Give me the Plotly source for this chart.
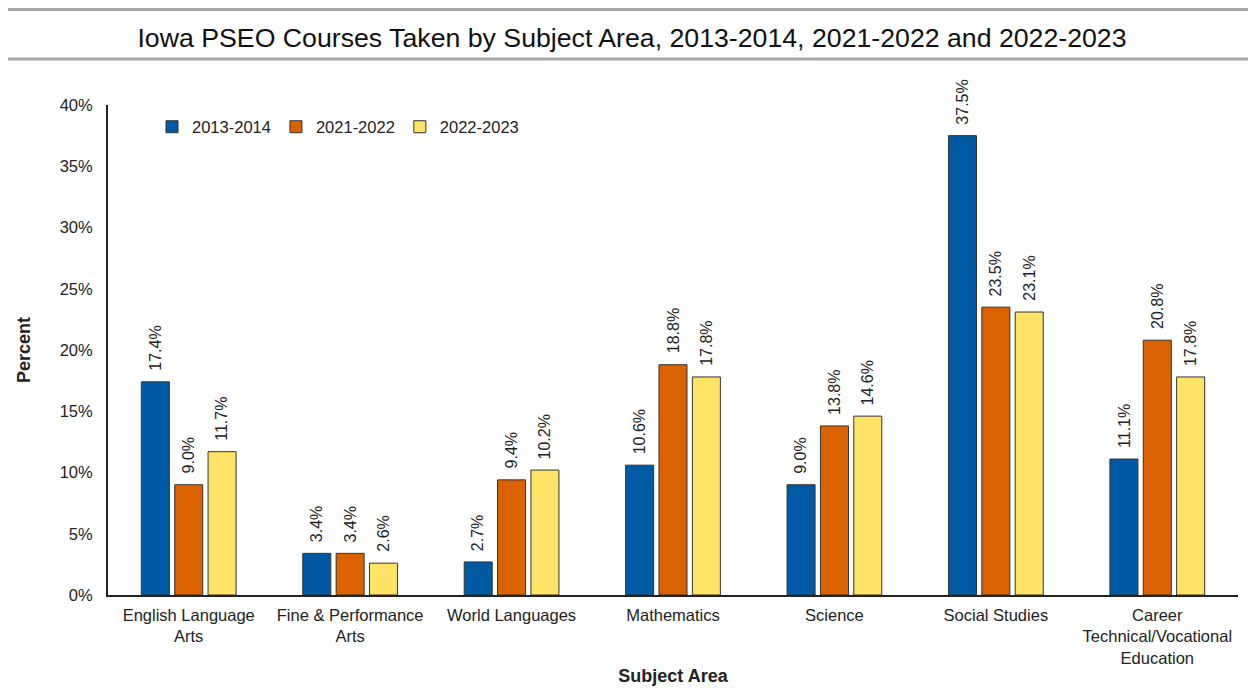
import plotly.graph_objects as go

categories = ["English Language<br>Arts", "Fine & Performance<br>Arts", "World Languages",
              "Mathematics", "Science", "Social Studies",
              "Career<br>Technical/Vocational<br>Education"]
series_names = ["2013-2014", "2021-2022", "2022-2023"]
v_2013_2014 = [17.4, 3.4, 2.7, 10.6, 9.0, 37.5, 11.1]
v_2021_2022 = [9.0, 3.4, 9.4, 18.8, 13.8, 23.5, 20.8]
v_2022_2023 = [11.7, 2.6, 10.2, 17.8, 14.6, 23.1, 17.8]
colors = ["#005AA3", "#DB6200", "#FFE366"]

FONT = "Liberation Sans, Arial, sans-serif"
# page body has an 8px margin: figure drawn at (8,8)
W, H = 1248, 680
L, R, T, B = 100, 18, 97, 93
PW, PH = W - L - R, H - T - B
BARGAP, GROUPGAP = 0.38, 0.16

fig = go.Figure()
all_series = [v_2013_2014, v_2021_2022, v_2022_2023]
for name, vals, col in zip(series_names, all_series, colors):
    fig.add_trace(go.Bar(
        x=categories, y=vals, name=name,
        marker=dict(color=col, line=dict(color="#333333", width=1)),
        cliponaxis=False,
    ))

# data labels as rotated annotations placed at each bar's top
cat_px = PW / len(categories)
slot_px = cat_px * (1 - BARGAP) / len(all_series)
annotations = []
for i, vals in enumerate(all_series):
    for c, v in zip(categories, vals):
        annotations.append(dict(
            x=c, y=v, xref="x", yref="y", text=f"{v:.1f}%", showarrow=False,
            textangle=-90, xanchor="center", yanchor="bottom",
            xshift=(i - 1) * slot_px, yshift=9,
            font=dict(size=16, color="#222222", family=FONT),
        ))

fig.update_layout(
    width=W, height=H,
    paper_bgcolor="white", plot_bgcolor="white",
    font=dict(family=FONT, size=16.5, color="#222222"),
    title=dict(text="Iowa PSEO Courses Taken by Subject Area, 2013-2014, 2021-2022 and 2022-2023",
               x=0.5, xanchor="center", y=1 - 30/H, yanchor="middle",
               font=dict(size=26.7, color="#111111", family=FONT)),
    margin=dict(l=L, r=R, t=T, b=B, autoexpand=False),
    barmode="group", bargap=BARGAP, bargroupgap=GROUPGAP,
    showlegend=True,
    legend=dict(orientation="h", x=(144 - L)/PW, xanchor="left", y=(H - B - 119)/PH, yanchor="middle",
                font=dict(size=16.5, family=FONT), bgcolor="rgba(0,0,0,0)",
                itemwidth=30, tracegroupgap=0),
    xaxis=dict(showline=True, linecolor="#222222", linewidth=2, showgrid=False, automargin=False,
               ticks="", tickfont=dict(size=16.5), range=[-0.5, 6.5], ticklabelstandoff=4,
               title=dict(text="<b>Subject Area</b>", font=dict(size=18), standoff=4)),
    yaxis=dict(showline=True, linecolor="#222222", linewidth=2, showgrid=False, automargin=False,
               range=[0, 40], dtick=5, ticksuffix="%", ticks="", ticklabelstandoff=10,
               tickfont=dict(size=16.5), zeroline=False,
               title=dict(text="<b>Percent</b>", font=dict(size=18), standoff=24)),
    annotations=annotations,
    shapes=[
        dict(type="line", xref="paper", yref="paper", x0=-L/PW - 0.02, x1=1 + R/PW + 0.02,
             y0=1 + (T - 1.5)/PH, y1=1 + (T - 1.5)/PH, line=dict(color="#A6A6A6", width=3)),
        dict(type="line", xref="paper", yref="paper", x0=-L/PW - 0.02, x1=1 + R/PW + 0.02,
             y0=1 + (T - 51)/PH, y1=1 + (T - 51)/PH, line=dict(color="#A6A6A6", width=3)),
    ],
)

fig.write_html("out.html")
